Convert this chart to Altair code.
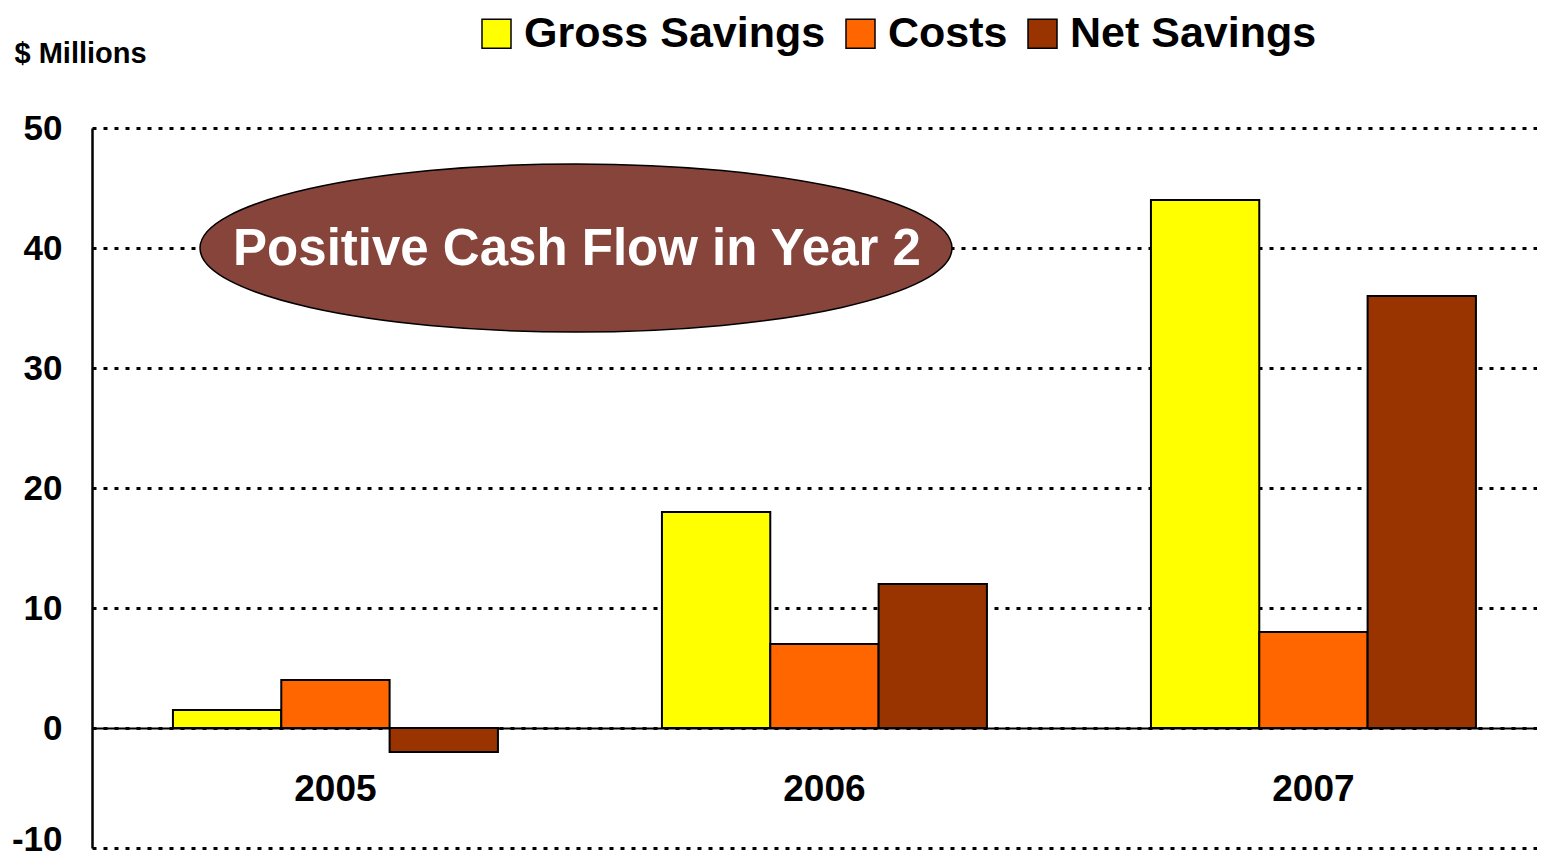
import altair as alt
import pandas as pd

years = ["2005", "2006", "2007"]
series = ["Gross Savings", "Costs", "Net Savings"]
gross_savings = [1.5, 18, 44]
costs = [4, 7, 8]
net_savings = [-2, 12, 36]
colors = ["#FFFF00", "#FF6600", "#993300"]
y_ticks = [-10, 0, 10, 20, 30, 40, 50]
callout_text = "Positive Cash Flow in Year 2"
y_title = "$ Millions"

rows = []
for s, vals in zip(series, [gross_savings, costs, net_savings]):
    for yr, v in zip(years, vals):
        rows.append({"year": yr, "series": s, "value": v})
df = pd.DataFrame(rows)

FONT = "Liberation Sans"

bars = alt.Chart(df).mark_bar(stroke="black", strokeWidth=2).encode(
    x=alt.X(
        "year:N",
        sort=years,
        scale=alt.Scale(paddingInner=0.3354, paddingOuter=0.1452, align=0.57),
        axis=alt.Axis(
            title=None, labelAngle=0, labelFontSize=37, labelFontWeight="bold",
            labelColor="black", labelPadding=43, ticks=False, domainColor="black",
            domainWidth=2, offset=-120, grid=False,
        ),
    ),
    xOffset=alt.XOffset("series:N", sort=series,
                        scale=alt.Scale(paddingInner=0, paddingOuter=0)),
    y=alt.Y(
        "value:Q",
        scale=alt.Scale(domain=[-10, 50], nice=False, zero=False),
        axis=alt.Axis(
            values=y_ticks, labelExpr="'' + datum.value",
            labelOffset={"condition": {"test": "datum.value == -10", "value": -9}, "value": 0},
            title=y_title, titleAngle=0, titleAlign="left",
            titleBaseline="middle", titleX=-78, titleY=-75, titleFontSize=29,
            titleFontWeight="bold", titleColor="black",
            labelFontSize=35, labelFontWeight="bold", labelColor="black",
            labelPadding=30, ticks=False, domainColor="black", domainWidth=2.5,
            grid=True, gridColor="black", gridDash=[4, 7], gridWidth=3,
            gridOpacity=1,
        ),
    ),
    color=alt.Color(
        "series:N", sort=series,
        scale=alt.Scale(domain=series, range=colors),
        legend=alt.Legend(
            title=None, orient="none", legendX=383, legendY=-116,
            direction="horizontal", symbolType="square", symbolSize=841,
            symbolStrokeColor="black", symbolStrokeWidth=1.5,
            labelFontSize=43, labelFontWeight="bold", labelColor="black",
            labelOffset=6, columnPadding=13, symbolOpacity=1, labelLimit=0,
        ),
    ),
)

ellipse_path = "M -1 0 A 1 0.2234 0 1 1 1 0 A 1 0.2234 0 1 1 -1 0 Z"
ellipse = alt.Chart(pd.DataFrame({"v": [40]})).mark_point(
    shape=ellipse_path, size=752 * 752, filled=True, fill="#86443B",
    stroke="black", strokeWidth=1.5, opacity=1,
).encode(x=alt.value(484), y=alt.Y("v:Q"))

callout = alt.Chart(pd.DataFrame({"v": [40], "t": [callout_text]})).mark_text(
    fontSize=51, fontWeight="bold", color="white", baseline="middle", align="center",
    dy=2,
).encode(x=alt.value(485), y=alt.Y("v:Q"), text="t:N")

chart = alt.layer(bars, ellipse, callout).properties(
    width=1445, height=720,
    autosize=alt.AutoSizeParams(type="none"),
    padding={"left": 84, "top": 120, "right": 0, "bottom": 7},
    background="white",
).configure(font=FONT).configure_view(stroke=None)

chart.save("out.html", embed_options={"renderer": "svg", "actions": False})
